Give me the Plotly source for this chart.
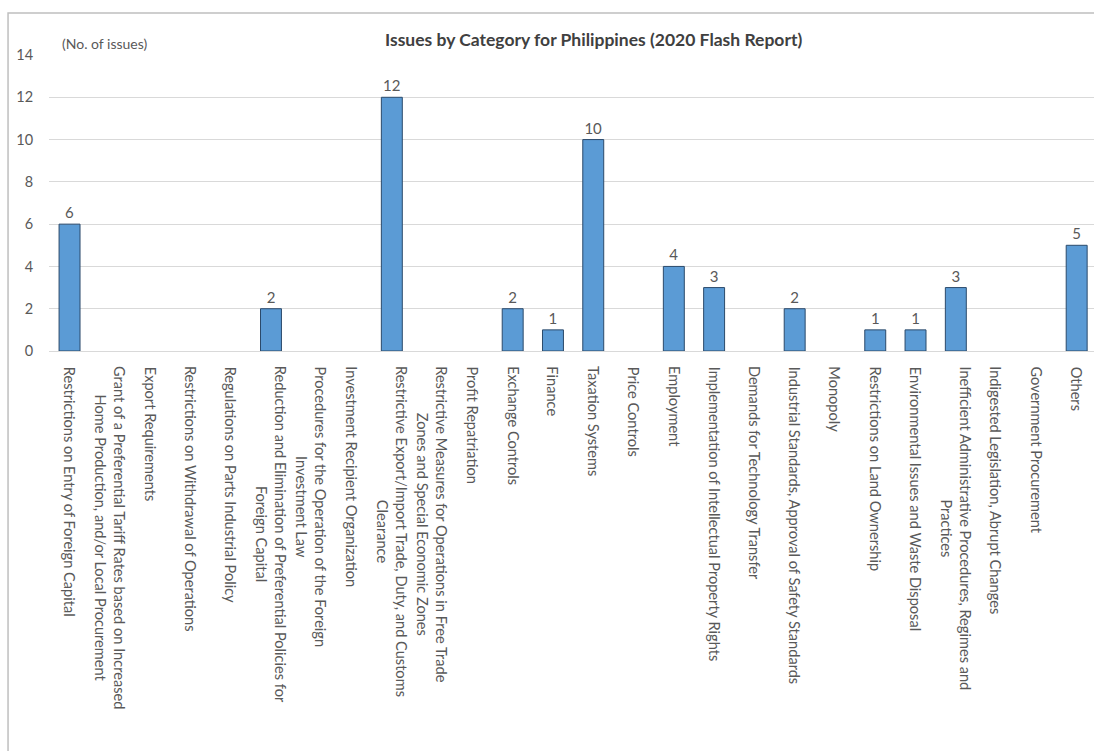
import plotly.graph_objects as go

# Issue categories (line breaks follow the wrapped axis labels)
categories = [
    "Restrictions on Entry of Foreign Capital",
    "Grant of a Preferential Tariff Rates based on Increased<br>Home Production, and/or Local Procurement",
    "Export Requirements",
    "Restrictions on Withdrawal of Operations",
    "Regulations on Parts Industrial Policy",
    "Reduction and Elimination of Preferential Policies for<br>Foreign Capital",
    "Procedures for the Operation of the Foreign<br>Investment Law",
    "Investment Recipient Organization",
    "Restrictive Export/Import Trade, Duty, and Customs<br>Clearance",
    "Restrictive Measures for Operations in Free Trade<br>Zones and Special Economic Zones",
    "Profit Repatriation",
    "Exchange Controls",
    "Finance",
    "Taxation Systems",
    "Price Controls",
    "Employment",
    "Implementation of Intellectual Property Rights",
    "Demands for Technology Transfer",
    "Industrial Standards, Approval of Safety Standards",
    "Monopoly",
    "Restrictions on Land Ownership",
    "Environmental Issues and Waste Disposal",
    "Inefficient Administrative Procedures, Regimes and<br>Practices",
    "Indigested Legislation, Abrupt Changes",
    "Government Procurement",
    "Others",
]

# Number of issues per category
issue_counts = [6, 0, 0, 0, 0, 2, 0, 0, 12, 0, 0, 2, 1, 10, 0, 4, 3, 0, 2, 0, 1, 1, 3, 0, 0, 5]

y_ticks = [0, 2, 4, 6, 8, 10, 12, 14]

chart_title = "Issues by Category for Philippines (2020 Flash Report)"
unit_label = "(No. of issues)"

FONT = "Lato"
GRAY = "#595959"

# Only non-empty categories get a value label and a bar outline
value_text = [str(v) if v else "" for v in issue_counts]
outline_width = [1 if v else 0 for v in issue_counts]

fig = go.Figure()
fig.add_trace(go.Bar(
    x=list(range(len(categories))),
    y=issue_counts,
    text=value_text,
    textposition="outside",
    textfont=dict(family=FONT, size=15, color=GRAY),
    cliponaxis=False,
    marker=dict(color="#5B9BD5", line=dict(color="#2B4A6B", width=outline_width)),
    hoverinfo="skip",
))

# Rotated, centre-aligned category labels under each bar
for i, label in enumerate(categories):
    fig.add_annotation(
        x=i, xref="x",
        y=-0.045, yref="paper",
        text=label,
        textangle=90,
        align="center",
        xanchor="center", yanchor="top",
        showarrow=False,
        font=dict(family=FONT, size=14.6, color=GRAY),
    )

fig.add_annotation(
    x=0.5206, xref="paper", y=1.0507, yref="paper",
    text="<b>" + chart_title + "</b>",
    showarrow=False, xanchor="center", yanchor="middle",
    font=dict(family=FONT, size=17.5, color="#404040"),
)
fig.add_annotation(
    x=0.0105, xref="paper", y=1.0405, yref="paper",
    text=unit_label,
    showarrow=False, xanchor="left", yanchor="middle",
    font=dict(family=FONT, size=14, color=GRAY),
)

# Chart frame (left and top edges)
fig.add_shape(
    type="rect", xref="paper", yref="paper",
    x0=-0.0392, x1=1.05, y0=-1.37, y1=1.142,
    line=dict(color="#BFBFBF", width=1.5),
    fillcolor="rgba(0,0,0,0)", layer="below",
)

fig.update_layout(
    width=1094, height=751,
    margin=dict(l=49, r=0, t=55, b=400),
    paper_bgcolor="white",
    plot_bgcolor="white",
    showlegend=False,
    bargap=0.48,
    font=dict(family=FONT, color=GRAY),
    xaxis=dict(
        range=[-0.51, 25.43],
        showticklabels=False,
        showgrid=False, zeroline=False, showline=False,
        fixedrange=True,
    ),
    yaxis=dict(
        range=[0, 14],
        tickvals=y_ticks,
        showgrid=True, gridcolor="#D9D9D9", gridwidth=1,
        zeroline=True, zerolinecolor="#D9D9D9", zerolinewidth=1,
        showline=False,
        ticks="outside", ticklen=12, tickcolor="rgba(0,0,0,0)",
        tickfont=dict(family=FONT, size=14.5, color=GRAY),
        fixedrange=True,
    ),
)

fig.write_html("out.html")
